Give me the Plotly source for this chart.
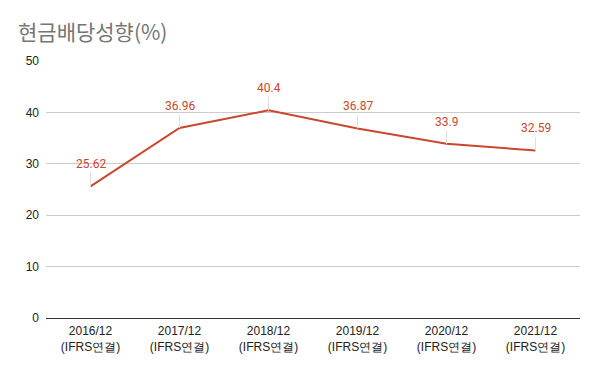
import plotly.graph_objects as go

categories = ["2016/12<br>(IFRS연결)", "2017/12<br>(IFRS연결)", "2018/12<br>(IFRS연결)",
              "2019/12<br>(IFRS연결)", "2020/12<br>(IFRS연결)", "2021/12<br>(IFRS연결)"]
values = [25.62, 36.96, 40.4, 36.87, 33.9, 32.59]
labels = ["25.62", "36.96", "40.4", "36.87", "33.9", "32.59"]
y_ticks = [0, 10, 20, 30, 40, 50]

RED = "#c9472d"

fig = go.Figure()
fig.add_trace(go.Scatter(x=categories, y=values, mode="lines",
                         line=dict(color=RED, width=2), hoverinfo="skip"))

for c, v, t in zip(categories, values, labels):
    fig.add_annotation(x=c, y=v, text=t, showarrow=True, ax=0, ay=-22,
                       arrowhead=0, arrowwidth=1, arrowcolor="#e0e0e0", standoff=0,
                       font=dict(family="Roboto, Liberation Sans, Arial", size=12, color=RED))

fig.update_layout(
    width=600, height=371,
    margin=dict(l=46, r=20, t=61, b=53),
    paper_bgcolor="white", plot_bgcolor="white",
    showlegend=False,
    title=dict(text="현금배당성향(%)", x=18/600, xanchor="left", y=1-33/371, yanchor="middle",
               font=dict(family="Noto Sans CJK KR", size=21, color="#757575")),
    xaxis=dict(showgrid=False, showline=False, zeroline=False, ticks="",
               range=[-0.5, 5.5], automargin=False, ticklabelstandoff=4,
               tickfont=dict(family="Liberation Sans, Arial", size=12, color="#222222")),
    yaxis=dict(range=[0, 50], tickvals=y_ticks, showgrid=True, gridcolor="#cccccc",
               gridwidth=1, zeroline=True, zerolinecolor="#333333", zerolinewidth=1,
               showline=False, ticks="", ticklabelstandoff=6, automargin=False,
               tickfont=dict(family="Liberation Sans, Arial", size=12, color="#222222")),
)

fig.write_html("out.html", config={"displayModeBar": False},
               post_script="document.body.style.margin='0';")
